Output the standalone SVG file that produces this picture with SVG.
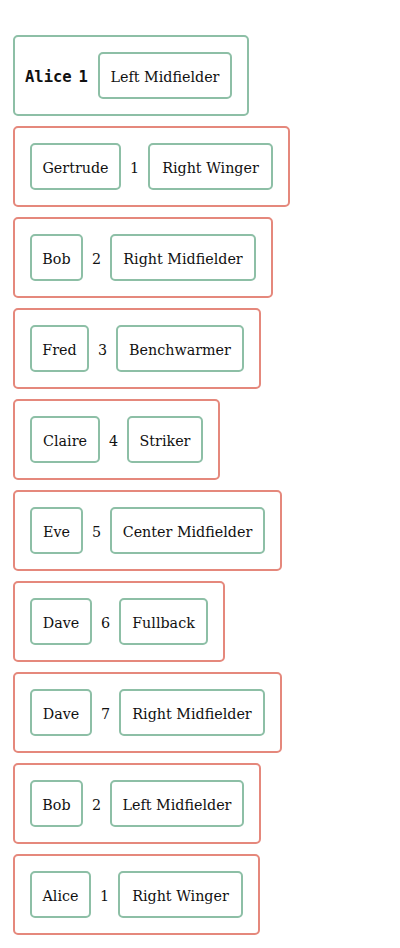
<svg xmlns="http://www.w3.org/2000/svg" width="400" height="948" viewBox="0 0 400 948">
<style>
.outer{fill:none;stroke:#e5887c;stroke-width:2}
.outerg{fill:none;stroke:#8dbfa6;stroke-width:2}
.inner{fill:none;stroke:#8dbfa6;stroke-width:2}
text{font-family:"DejaVu Serif",serif;font-size:14.3px;fill:#111;text-anchor:middle}
.mono{font-family:"DejaVu Sans Mono","Liberation Mono",monospace;font-weight:bold;font-size:15.5px;text-anchor:start}
</style>
<rect width="400" height="948" fill="#fff"/>
<g id="n0">
<rect class="outerg" x="14" y="36" width="234" height="79" rx="4"/>
<text class="mono" x="25" y="82">Alice</text>
<text class="mono" x="78.5" y="82">1</text>
<rect class="inner" x="99" y="53" width="132" height="45" rx="4"/>
<text x="165" y="82">Left Midfielder</text>
</g>
<g id="n1">
<rect class="outer" x="14" y="127" width="275" height="79" rx="4"/>
<rect class="inner" x="31" y="144" width="89" height="45" rx="4"/>
<text x="75.5" y="173">Gertrude</text>
<text x="134.5" y="173">1</text>
<rect class="inner" x="149" y="144" width="123" height="45" rx="4"/>
<text x="210.5" y="173">Right Winger</text>
</g>
<g id="n2">
<rect class="outer" x="14" y="218" width="258" height="79" rx="4"/>
<rect class="inner" x="31" y="235" width="51" height="45" rx="4"/>
<text x="56.5" y="264">Bob</text>
<text x="96.5" y="264">2</text>
<rect class="inner" x="111" y="235" width="144" height="45" rx="4"/>
<text x="183" y="264">Right Midfielder</text>
</g>
<g id="n3">
<rect class="outer" x="14" y="309" width="246" height="79" rx="4"/>
<rect class="inner" x="31" y="326" width="57" height="45" rx="4"/>
<text x="59.5" y="355">Fred</text>
<text x="102.5" y="355">3</text>
<rect class="inner" x="117" y="326" width="126" height="45" rx="4"/>
<text x="180" y="355">Benchwarmer</text>
</g>
<g id="n4">
<rect class="outer" x="14" y="400" width="205" height="79" rx="4"/>
<rect class="inner" x="31" y="417" width="68" height="45" rx="4"/>
<text x="65" y="446">Claire</text>
<text x="113.5" y="446">4</text>
<rect class="inner" x="128" y="417" width="74" height="45" rx="4"/>
<text x="165" y="446">Striker</text>
</g>
<g id="n5">
<rect class="outer" x="14" y="491" width="267" height="79" rx="4"/>
<rect class="inner" x="31" y="508" width="51" height="45" rx="4"/>
<text x="56.5" y="537">Eve</text>
<text x="96.5" y="537">5</text>
<rect class="inner" x="111" y="508" width="153" height="45" rx="4"/>
<text x="187.5" y="537">Center Midfielder</text>
</g>
<g id="n6">
<rect class="outer" x="14" y="582" width="210" height="79" rx="4"/>
<rect class="inner" x="31" y="599" width="60" height="45" rx="4"/>
<text x="61" y="628">Dave</text>
<text x="105.5" y="628">6</text>
<rect class="inner" x="120" y="599" width="87" height="45" rx="4"/>
<text x="163.5" y="628">Fullback</text>
</g>
<g id="n7">
<rect class="outer" x="14" y="673" width="267" height="79" rx="4"/>
<rect class="inner" x="31" y="690" width="60" height="45" rx="4"/>
<text x="61" y="719">Dave</text>
<text x="105.5" y="719">7</text>
<rect class="inner" x="120" y="690" width="144" height="45" rx="4"/>
<text x="192" y="719">Right Midfielder</text>
</g>
<g id="n8">
<rect class="outer" x="14" y="764" width="246" height="79" rx="4"/>
<rect class="inner" x="31" y="781" width="51" height="45" rx="4"/>
<text x="56.5" y="810">Bob</text>
<text x="96.5" y="810">2</text>
<rect class="inner" x="111" y="781" width="132" height="45" rx="4"/>
<text x="177" y="810">Left Midfielder</text>
</g>
<g id="n9">
<rect class="outer" x="14" y="855" width="245" height="79" rx="4"/>
<rect class="inner" x="31" y="872" width="59" height="45" rx="4"/>
<text x="60.5" y="901">Alice</text>
<text x="104.5" y="901">1</text>
<rect class="inner" x="119" y="872" width="123" height="45" rx="4"/>
<text x="180.5" y="901">Right Winger</text>
</g>
<g id="connectors"></g>
</svg>
